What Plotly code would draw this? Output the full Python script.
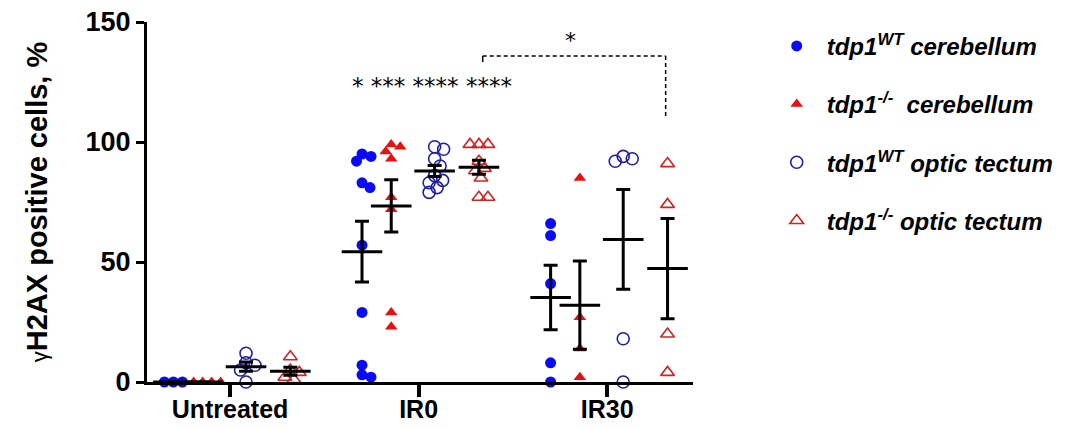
import numpy as np
import plotly.graph_objects as go

# ---------------- data ----------------
categories = ["Untreated", "IR0", "IR30"]
series_names = [
    "tdp1<sup>WT</sup> cerebellum",
    "tdp1<sup>-/-</sup>  cerebellum",
    "tdp1<sup>WT</sup> optic tectum",
    "tdp1<sup>-/-</sup> optic tectum",
]
wt_cerebellum = [[0, 0, 0], [95, 94, 92, 83, 81, 57, 29, 7, 3, 2], [66, 61, 41, 8, 0]]
ko_cerebellum = [[0, 0, 0, 0], [99, 98, 96, 93, 77, 72, 29, 23], [85, 27, 14, 2]]
wt_tectum = [[12, 8, 7, 5, 0], [98, 97, 93, 90, 86, 84, 83, 81, 79], [94, 93, 92, 18, 0]]
ko_tectum = [[10.5, 5, 4, 2, 1], [99, 99, 99, 92, 89, 88, 85, 77, 77], [91, 74, 20, 4]]
series_values = [wt_cerebellum, ko_cerebellum, wt_tectum, ko_tectum]
y_ticks = [0, 50, 100, 150]
sig_text = "* *** **** ****"
bracket_text = "*"

# ---------------- styles / layout ----------------
# the page body has an 8px default margin, so the figure is drawn 8px smaller
# and offset accordingly to land on the 1071x429 window like the reference
FONT = "Liberation Sans"
W, H = 1063, 421
ML, MT = 139, 14
PW, PH = 546, 360
MR, MB = W - ML - PW, H - MT - PH
XR = [-0.44, 2.455]
YR = [0, 150]
px_per_x = PW / (XR[1] - XR[0])
px_per_y = PH / (YR[1] - YR[0])
group_offsets = [-0.30, -0.145, 0.085, 0.32]
styles = [
    dict(symbol="circle", size=11, color="#0a0af5", line=dict(width=0)),
    dict(symbol="triangle-up", size=11, color="#e81010", line=dict(width=0)),
    dict(symbol="circle-open", size=12, color="#1f1fa8", line=dict(width=1.6)),
    dict(symbol="triangle-up-open", size=12, color="#d02424", line=dict(width=1.6)),
]


def swarm(vals, diam=9.0, step=0.5):
    """Simple beeswarm: horizontal pixel offsets so markers don't overlap."""
    vals = np.asarray(vals, dtype=float)
    order = np.argsort(-vals, kind="stable")
    placed = []
    offs = np.zeros(len(vals))
    for i in order:
        y = vals[i] * px_per_y
        k = 0
        found = None
        while found is None:
            cands = [0.0] if k == 0 else [k * step, -k * step]
            for c in cands:
                if all((c - px) ** 2 + (y - py) ** 2 >= diam ** 2 for px, py in placed):
                    found = c
                    break
            k += 1
        placed.append((found, y))
        offs[i] = found
    return offs / px_per_x


fig = go.Figure()

# points
for s, (name, vals) in enumerate(zip(series_names, series_values)):
    xs, ys = [], []
    for c, v in enumerate(vals):
        off = swarm(v)
        xs.extend(c + group_offsets[s] + off)
        ys.extend(v)
    fig.add_trace(go.Scatter(
        x=xs, y=ys, mode="markers", name=name, legendgroup=f"g{s}",
        marker=styles[s], cliponaxis=False,
    ))

# mean +/- SEM
mx, my, me = [], [], []
for s, vals in enumerate(series_values):
    for c, v in enumerate(vals):
        a = np.asarray(v, dtype=float)
        mx.append(c + group_offsets[s])
        my.append(a.mean())
        me.append(a.std(ddof=1) / np.sqrt(len(a)))
fig.add_trace(go.Scatter(
    x=mx, y=my, mode="markers", showlegend=False, cliponaxis=False,
    marker=dict(symbol="line-ew", size=29, color="black", line=dict(width=3, color="black")),
    error_y=dict(type="data", array=me, visible=True, thickness=3, width=7, color="black"),
))

# significance stars above IR0
fig.add_annotation(x=1 + 0.07, y=123.5, text=sig_text, showarrow=False,
                   font=dict(family="DejaVu Sans", size=23, color="black"),
                   xanchor="center", yanchor="middle")

# bracket IR0 ko tectum vs IR30 ko tectum
bx0 = 1 + group_offsets[3] + 0.02
bx1 = 2 + group_offsets[3] - 0.01
by = 135.8
dash = dict(color="black", width=1.5, dash="4px,3px")
fig.add_shape(type="line", x0=bx0, x1=bx1, y0=by, y1=by, line=dash, layer="above")
fig.add_shape(type="line", x0=bx1, x1=bx1, y0=by, y1=110, line=dash, layer="above")
fig.add_shape(type="line", x0=bx0, x1=bx0, y0=by, y1=133.3, line=dict(color="black", width=1.5), layer="above")
fig.add_annotation(x=(bx0 + bx1) / 2 - 0.02, y=by + 0.5, text=bracket_text, showarrow=False,
                   font=dict(family="DejaVu Sans", size=22, color="black"),
                   xanchor="center", yanchor="bottom")

fig.update_layout(
    width=W, height=H,
    margin=dict(l=ML, r=MR, t=MT, b=MB, pad=0, autoexpand=False),
    paper_bgcolor="white", plot_bgcolor="white",
    font=dict(family=FONT, color="black"),
    showlegend=True,
    legend=dict(
        x=1.135, y=0.995, xanchor="left", yanchor="top",
        font=dict(family=FONT, size=24, weight="bold", style="italic", color="black"),
        traceorder="grouped", tracegroupgap=24, itemwidth=50,
        bgcolor="rgba(0,0,0,0)",
    ),
    xaxis=dict(
        range=XR, tickmode="array", tickvals=[0, 1, 2], ticktext=categories,
        showgrid=False, zeroline=False, showline=True, linecolor="black", linewidth=3,
        ticks="outside", ticklen=12, tickwidth=4, tickcolor="black", automargin=False,
        ticklabeloverflow="allow", ticklabelstandoff=-9,
        tickfont=dict(family=FONT, size=25, weight="bold", color="black"),
    ),
    yaxis=dict(
        range=YR, tickmode="array", tickvals=y_ticks, automargin=False,
        ticklabeloverflow="allow",
        showgrid=False, zeroline=False, showline=True, linecolor="black", linewidth=3,
        ticks="outside", ticklen=8, tickwidth=3, tickcolor="black",
        tickfont=dict(family=FONT, size=27, weight="bold", color="black"),
        title=dict(
            text="<span style='font-weight:normal;font-size:22px'>γ</span>H2AX positive cells, %",
            font=dict(family=FONT, size=29, weight="bold", color="black"),
            standoff=30,
        ),
    ),
)

fig.write_html("out.html")
